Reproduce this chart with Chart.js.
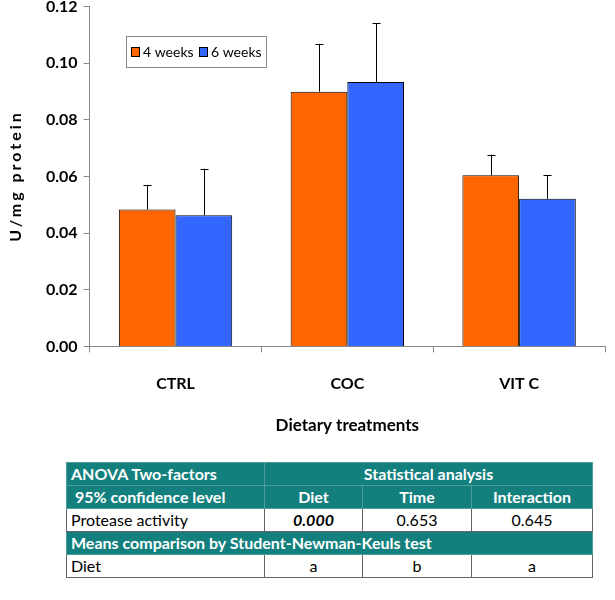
<!DOCTYPE html>
<html>
<head>
<meta charset="utf-8">
<script src="https://cdn.jsdelivr.net/npm/chart.js@4.4.0/dist/chart.umd.min.js"></script>
<style>
  body { margin: 0; background: #fff; font-family: Lato, sans-serif; }
  #wrap { position: relative; width: 615px; height: 600px; }
  #chart { position: absolute; left: 0; top: 0; }
  table { position: absolute; left: 66px; top: 462px; border-collapse: collapse; font-family: Lato, sans-serif; font-size: 16px; table-layout: fixed; }
  td { height: 22px; padding: 0 4px; border: 1px solid #666; white-space: nowrap; line-height: 22px; }
  tr.head td { background: #13807e; color: #fff; font-weight: bold; border-color: #4d9d9b; }
  .c { text-align: center; }
</style>
</head>
<body>
<div id="wrap">
  <canvas id="chart" width="615" height="445"></canvas>
  <table>
    <colgroup><col style="width:198px"><col style="width:98px"><col style="width:109px"><col style="width:121px"></colgroup>
    <tr class="head"><td>ANOVA Two-factors</td><td class="c" colspan="3">Statistical analysis</td></tr>
    <tr class="head"><td>&nbsp;95% confidence level</td><td class="c">Diet</td><td class="c">Time</td><td class="c">Interaction</td></tr>
    <tr><td>Protease activity</td><td class="c"><b><i>0.000</i></b></td><td class="c">0.653</td><td class="c">0.645</td></tr>
    <tr class="head"><td colspan="4">Means comparison by Student-Newman-Keuls test</td></tr>
    <tr><td>Diet</td><td class="c">a</td><td class="c">b</td><td class="c">a</td></tr>
  </table>
</div>
<script>
// treatments and protease activity (U/mg protein), upper error bars
const treatments = ["CTRL", "COC", "VIT C"];
const weeks4 = [0.0483, 0.0899, 0.0604];
const weeks6 = [0.0463, 0.0933, 0.0521];
const err4 = [0.0087, 0.0168, 0.0073];
const err6 = [0.0164, 0.0208, 0.0083];

// upper error bars with caps
const errorBars = {
  id: "errorBars",
  afterDatasetsDraw(chart) {
    const ctx = chart.ctx;
    const y = chart.scales.y;
    const errs = [err4, err6];
    ctx.save();
    ctx.strokeStyle = "#000";
    ctx.lineWidth = 1;
    chart.data.datasets.forEach((ds, i) => {
      chart.getDatasetMeta(i).data.forEach((bar, j) => {
        const top = y.getPixelForValue(ds.data[j]);
        const end = y.getPixelForValue(ds.data[j] + errs[i][j]);
        const x = Math.round(bar.x) + 0.5;
        ctx.beginPath();
        ctx.moveTo(x, top);
        ctx.lineTo(x, end);
        ctx.moveTo(x - 4, Math.round(end) + 0.5);
        ctx.lineTo(x + 4, Math.round(end) + 0.5);
        ctx.stroke();
      });
    });
    ctx.restore();
  }
};

// legend box inside the plot and spaced y title
const extras = {
  id: "extras",
  afterDraw(chart) {
    const ctx = chart.ctx;
    ctx.save();
    ctx.strokeStyle = "#888";
    ctx.lineWidth = 1;
    ctx.strokeRect(126.5, 36.5, 140, 31);
    ctx.font = "14px Lato";
    ctx.textBaseline = "middle";
    let x = 131;
    chart.data.datasets.forEach(ds => {
      ctx.fillStyle = ds.backgroundColor;
      ctx.fillRect(x, 47, 8, 9);
      ctx.strokeStyle = "#000";
      ctx.strokeRect(x + 0.5, 47.5, 8, 9);
      ctx.fillStyle = "#000";
      ctx.fillText(ds.label, x + 12, 52);
      x += 68;
    });
    ctx.translate(16, 176);
    ctx.rotate(-Math.PI / 2);
    ctx.font = "bold 16px Lato";
    ctx.letterSpacing = "3px";
    ctx.textAlign = "center";
    ctx.fillText("U/mg protein", 0, 0);
    ctx.restore();
  }
};

new Chart(document.getElementById("chart"), {
  type: "bar",
  data: {
    labels: treatments,
    datasets: [
      { label: "4 weeks", data: weeks4, backgroundColor: "#ff6600", borderColor: "#000", borderWidth: 1 },
      { label: "6 weeks", data: weeks6, backgroundColor: "#3366ff", borderColor: "#000", borderWidth: 1 }
    ]
  },
  options: {
    responsive: false,
    animation: false,
    layout: { padding: { left: 40, right: 10, top: 5, bottom: 5 } },
    datasets: { bar: { categoryPercentage: 0.66, barPercentage: 1 } },
    plugins: { legend: { display: false }, tooltip: { enabled: false } },
    scales: {
      x: {
        grid: { drawOnChartArea: false, color: "#888", tickLength: 6 },
        border: { color: "#888" },
        ticks: { color: "#000", font: { family: "Lato", size: 16, weight: "bold" }, padding: 22 },
        title: { display: true, text: "Dietary treatments", color: "#000", font: { family: "Lato", size: 17, weight: "bold" }, padding: { top: 0 } }
      },
      y: {
        min: 0, max: 0.12,
        grid: { drawOnChartArea: false, color: "#888", tickLength: 6 },
        border: { color: "#888" },
        ticks: { stepSize: 0.02, color: "#000", font: { family: "Lato", size: 16, weight: "bold", lineHeight: 0.05 }, padding: 6,
          callback: v => v.toFixed(2) }
      }
    }
  },
  plugins: [errorBars, extras]
});
</script>
</body>
</html>
